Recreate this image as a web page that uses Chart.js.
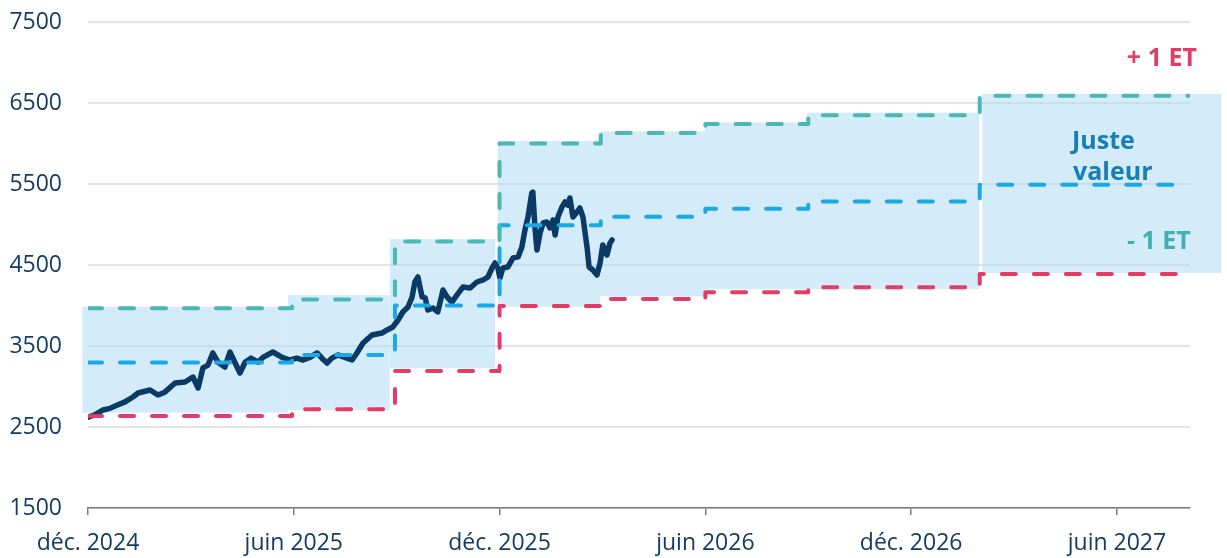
<!DOCTYPE html>
<html lang="fr">
<head>
<meta charset="utf-8">
<title>Juste valeur</title>
<script src="https://cdn.jsdelivr.net/npm/chart.js@4/dist/chart.umd.min.js"></script>
<style>
    html, body { margin: 0; padding: 0; background: #ffffff; }
    #wrap { width: 1227px; height: 558px; position: relative; }
</style>
</head>
<body>
<div id="wrap"><canvas id="fairValueChart"></canvas></div>
<script>
/*
    x values are months counted from 1 Dec 2024
*/

const tickMonths = [0, 6, 12, 18, 24, 30];
const tickLabels = ["déc. 2024", "juin 2025", "déc. 2025", "juin 2026", "déc. 2026", "juin 2027"];

const priceMonths = [
    0.00, 0.20, 0.44, 0.64, 0.79, 1.08, 1.31, 1.46, 1.81, 2.04,
    2.24, 2.54, 2.83, 3.06, 3.21, 3.35, 3.50, 3.64, 3.79, 3.99,
    4.14, 4.29, 4.43, 4.58, 4.75, 4.96, 5.10, 5.39, 5.66, 5.89,
    6.09, 6.27, 6.47, 6.68, 6.82, 6.97, 7.11, 7.29, 7.55, 7.70,
    7.84, 8.02, 8.28, 8.57, 8.72, 8.89, 9.04, 9.18, 9.33, 9.45,
    9.53, 9.62, 9.74, 9.83, 9.91, 10.06, 10.20, 10.35, 10.47, 10.61,
    10.76, 10.93, 11.14, 11.34, 11.52, 11.66, 11.78, 11.87, 11.95, 12.01,
    12.10, 12.24, 12.39, 12.54, 12.65, 12.74, 12.83, 12.94, 12.97, 13.03,
    13.09, 13.18, 13.27, 13.38, 13.47, 13.56, 13.62, 13.70, 13.82, 13.91,
    13.99, 14.05, 14.14, 14.26, 14.34, 14.43, 14.55, 14.61, 14.72, 14.84,
    14.93, 15.01, 15.13, 15.22, 15.28
];

const priceValues = [
    2620, 2650, 2710, 2730, 2760, 2810, 2870, 2920, 2957, 2895,
    2930, 3043, 3056, 3117, 2980, 3230, 3265, 3414, 3300, 3240,
    3426, 3290, 3167, 3300, 3350, 3300, 3360, 3426, 3360, 3327,
    3350, 3327, 3360, 3414, 3350, 3290, 3350, 3390, 3350, 3327,
    3414, 3537, 3636, 3660, 3698, 3735, 3821, 3920, 3981, 4105,
    4290, 4352, 4105, 4093, 3944, 3969, 3920, 4191, 4105, 4043,
    4130, 4228, 4216, 4290, 4315, 4352, 4463, 4525, 4463, 4340,
    4463, 4475, 4586, 4600, 4722, 4932, 5093, 5389, 5400, 4969,
    4685, 4895, 5019, 5031, 4957, 5056, 4870, 5093, 5216, 5278,
    5240, 5327, 5093, 5155, 5204, 5093, 4722, 4475, 4438, 4377,
    4525, 4747, 4623, 4772, 4809
];

const stepBounds = [0, 5.95, 8.95, 12, 14.95, 18, 21, 26, 32.13];
const upperBand = [3965, 4075, 4790, 6000, 6130, 6240, 6350, 6590];
const fairValue = [3295, 3390, 4000, 4990, 5095, 5195, 5285, 5490];
const lowerBand = [2635, 2720, 3190, 3995, 4080, 4165, 4225, 4390];

const shadeStart = [-0.17, 5.83, 8.80, 11.94, 14.93, 17.99, 20.96, 26.07];
const shadeEnd = [5.83, 8.80, 11.88, 14.93, 17.99, 20.96, 25.99, 33.05];
const shadeTop = [3980, 4130, 4820, 6030, 6150, 6260, 6380, 6610];
const shadeBottom = [2675, 2710, 3225, 3985, 4115, 4200, 4200, 4400];

/*
==========================================================
Colours
==========================================================
*/

const navy = "#0b3a66";
const textColor = "#143d63";
const red = "#e23d68";
const teal = "#4bb7b7";
const blue = "#1ca8e3";

/*
==========================================================
Helpers
==========================================================
*/

function stepPoints(values) {

    const points = [];

    values.forEach((v, i) => {
        points.push({ x: stepBounds[i], y: v });
        points.push({ x: stepBounds[i + 1], y: v });
    });

    return points;
}

function dashedLine(label, values, color) {

    return {
        label: label,
        data: stepPoints(values),
        borderColor: color,
        borderWidth: 4,
        borderDash: [14, 18],
        borderCapStyle: "round",
        borderJoinStyle: "round",
        pointRadius: 0,
        fill: false,
        tension: 0
    };
}

// the shaded band runs a little past the plot edges, hence the clip margins
const shadeSets = shadeTop.map((top, i) => ({
    label: "bande " + i,
    data: [
        { x: shadeStart[i], y: top },
        { x: shadeEnd[i], y: top }
    ],
    borderColor: "rgba(0,0,0,0)",
    borderWidth: 0,
    pointRadius: 0,
    backgroundColor: "rgba(170,218,245,0.5)",
    fill: { value: shadeBottom[i] },
    clip: { left: 10, right: 40, top: 0, bottom: 0 }
}));

/*
==========================================================
Plugins
==========================================================
*/

const widenArea = {
    id: "widenArea",
    beforeDatasetsDraw(chart) {
        this.saved = chart.chartArea;
        chart.chartArea = Object.assign({}, this.saved, {
            left: this.saved.left - 8,
            right: this.saved.right + 34
        });
    },
    afterDatasetsDraw(chart) {
        chart.chartArea = this.saved;
    }
};

const bandLabels = {
    id: "bandLabels",
    afterDatasetsDraw(chart) {

        const { ctx } = chart;
        const x = chart.scales.x;
        const y = chart.scales.y;

        const items = [
            { text: "+ 1 ET", m: 31.31, v: 6957, color: red, align: "center" },
            { text: "Juste", m: 28.69, v: 5932, color: "#177fb5", align: "left" },
            { text: "valeur", m: 28.72, v: 5549, color: "#177fb5", align: "left" },
            { text: "- 1 ET", m: 31.22, v: 4698, color: "#3fb1b1", align: "center" }
        ];

        ctx.save();
        ctx.font = "bold 25px 'Open Sans'";
        ctx.textBaseline = "alphabetic";

        items.forEach(item => {
            ctx.fillStyle = item.color;
            ctx.textAlign = item.align;
            ctx.fillText(item.text, x.getPixelForValue(item.m), y.getPixelForValue(item.v));
        });

        ctx.restore();
    }
};

/*
==========================================================
Chart
==========================================================
*/

const tickFont = { family: "'Open Sans'", size: 23 };

new Chart(document.getElementById("fairValueChart"), {
    type: "line",
    data: {
        datasets: [
            dashedLine("+ 1 ET", upperBand, teal),
            dashedLine("Juste valeur", fairValue, blue),
            dashedLine("- 1 ET", lowerBand, red),
            {
                label: "Cours",
                data: priceMonths.map((m, i) => ({ x: m, y: priceValues[i] })),
                borderColor: navy,
                borderWidth: 5.5,
                borderJoinStyle: "round",
                borderCapStyle: "round",
                pointRadius: 0,
                fill: false,
                tension: 0
            },
            ...shadeSets
        ]
    },
    options: {
        responsive: true,
        maintainAspectRatio: false,
        animation: false,
        layout: { padding: { top: 22, right: 37, left: 0, bottom: 0 } },
        plugins: {
            legend: { display: false },
            tooltip: { enabled: false }
        },
        scales: {
            x: {
                type: "linear",
                min: 0,
                max: 32.13,
                afterBuildTicks: axis => {
                    axis.ticks = tickMonths.map(v => ({ value: v }));
                },
                afterFit: axis => {
                    axis.height = 50;
                },
                border: { display: true, color: "#7a7a7a", width: 1.5 },
                grid: {
                    drawOnChartArea: false,
                    drawTicks: true,
                    tickLength: 7,
                    color: "#7a7a7a",
                    lineWidth: 1.5
                },
                ticks: {
                    autoSkip: false,
                    maxRotation: 0,
                    padding: 15,
                    color: textColor,
                    font: tickFont,
                    callback: v => tickLabels[tickMonths.indexOf(v)]
                }
            },
            y: {
                min: 1500,
                max: 7500,
                afterFit: axis => {
                    axis.width = 88;
                    axis.paddingTop = 0;
                    axis.paddingBottom = 0;
                },
                border: { display: false },
                grid: { color: "#e4e4e4", lineWidth: 2, drawTicks: false },
                ticks: {
                    stepSize: 1000,
                    padding: 26,
                    color: textColor,
                    font: tickFont,
                    callback: v => String(v)
                }
            }
        }
    },
    plugins: [widenArea, bandLabels]
});
</script>
</body>
</html>
